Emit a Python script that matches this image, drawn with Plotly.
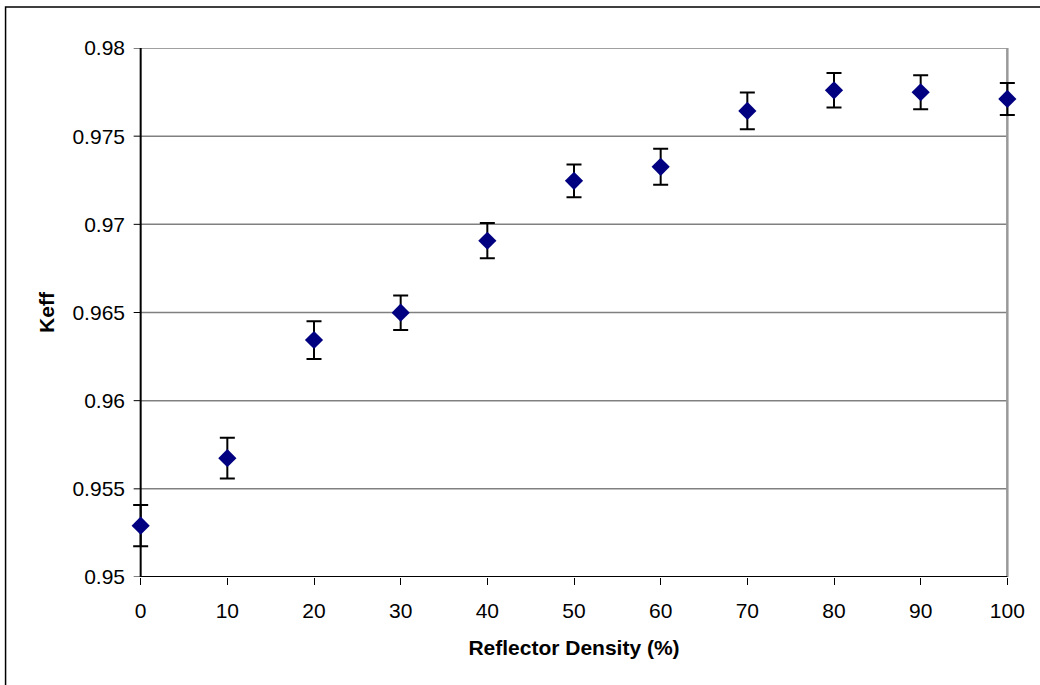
import plotly.graph_objects as go

density = [0, 10, 20, 30, 40, 50, 60, 70, 80, 90, 100]
keff = [0.95291, 0.95674, 0.96344, 0.96499, 0.96907, 0.97247, 0.97326, 0.97643, 0.97760, 0.97749, 0.97711]
keff_err = [0.00117, 0.00116, 0.00107, 0.00098, 0.00100, 0.00093, 0.00102, 0.00104, 0.00098, 0.00097, 0.00091]
y_ticks = [0.95, 0.955, 0.96, 0.965, 0.97, 0.975, 0.98]
y_tick_labels = ["0.95", "0.955", "0.96", "0.965", "0.97", "0.975", "0.98"]
x_ticks = [0, 10, 20, 30, 40, 50, 60, 70, 80, 90, 100]

X_MIN, X_MAX = 0, 100
Y_MIN, Y_MAX = 0.95, 0.98
PAD = 1.0  # extra x units so error bar caps at the ends are not clipped

W, H = 1040, 685
AX_LEFT_PX, AX_RIGHT_PX = 141, 1007
TOP_PX, BOT_PX = 48, 577
px_per_unit = (AX_RIGHT_PX - AX_LEFT_PX) / (X_MAX - X_MIN)
margin_l = AX_LEFT_PX - PAD * px_per_unit
margin_r = W - (AX_RIGHT_PX + PAD * px_per_unit)
plot_w = W - margin_l - margin_r
plot_h = BOT_PX - TOP_PX
tick_units = 7 / px_per_unit

fig = go.Figure()
fig.add_trace(go.Scatter(
    x=density, y=keff, mode="markers",
    marker=dict(symbol="diamond", size=14, color="#000080"),
    error_y=dict(type="data", array=keff_err, visible=True, color="black", thickness=2, width=7.5),
    cliponaxis=False, showlegend=False,
))

shapes = []
# horizontal gridlines
for yv in y_ticks[1:]:
    shapes.append(dict(type="line", xref="x", yref="y", x0=X_MIN, x1=X_MAX, y0=yv, y1=yv,
                       line=dict(color="#808080", width=1.5), layer="below"))
# y tick marks
for yv in y_ticks:
    shapes.append(dict(type="line", xref="x", yref="y", x0=X_MIN - tick_units, x1=X_MIN, y0=yv, y1=yv,
                       line=dict(color="black", width=1), layer="below"))
# right border of plot area
shapes.append(dict(type="line", xref="x", yref="y", x0=X_MAX, x1=X_MAX, y0=Y_MIN, y1=Y_MAX,
                   line=dict(color="#999999", width=2.5), layer="below"))
# axis lines
shapes.append(dict(type="line", xref="x", yref="y", x0=X_MIN, x1=X_MIN, y0=Y_MIN, y1=Y_MAX,
                   line=dict(color="black", width=2), layer="below"))
shapes.append(dict(type="line", xref="x", yref="y", x0=X_MIN, x1=X_MAX, y0=Y_MIN, y1=Y_MIN,
                   line=dict(color="black", width=2), layer="below"))
# outer chart border
shapes.append(dict(type="rect", xref="paper", yref="paper",
                   x0=(6 - margin_l) / plot_w, x1=(W + 10 - margin_l) / plot_w,
                   y0=(BOT_PX - (H + 10)) / plot_h, y1=(BOT_PX - 7) / plot_h,
                   line=dict(color="black", width=1.5), layer="below"))

font = "Liberation Sans, Arial, sans-serif"
fig.update_layout(
    width=W, height=H,
    margin=dict(l=margin_l, r=margin_r, t=TOP_PX, b=H - BOT_PX, pad=0),
    paper_bgcolor="white", plot_bgcolor="white",
    font=dict(family=font, size=21, color="black"),
    xaxis=dict(range=[X_MIN - PAD, X_MAX + PAD], tickvals=x_ticks, showgrid=False, zeroline=False,
               showline=False, ticks="outside", ticklen=7, tickcolor="black", tickwidth=1,
               tickfont=dict(size=21), ticklabelstandoff=8,
               title=dict(text="<b>Reflector Density (%)</b>", font=dict(size=21), standoff=19)),
    yaxis=dict(range=[Y_MIN, Y_MAX], tickvals=y_ticks, ticktext=y_tick_labels,
               showgrid=False, zeroline=False, showline=False, ticks="",
               tickfont=dict(size=21), ticklabelstandoff=6,
               title=dict(text="<b>Keff</b>", font=dict(size=21), standoff=12)),
    shapes=shapes,
)
fig.write_html("out.html")
